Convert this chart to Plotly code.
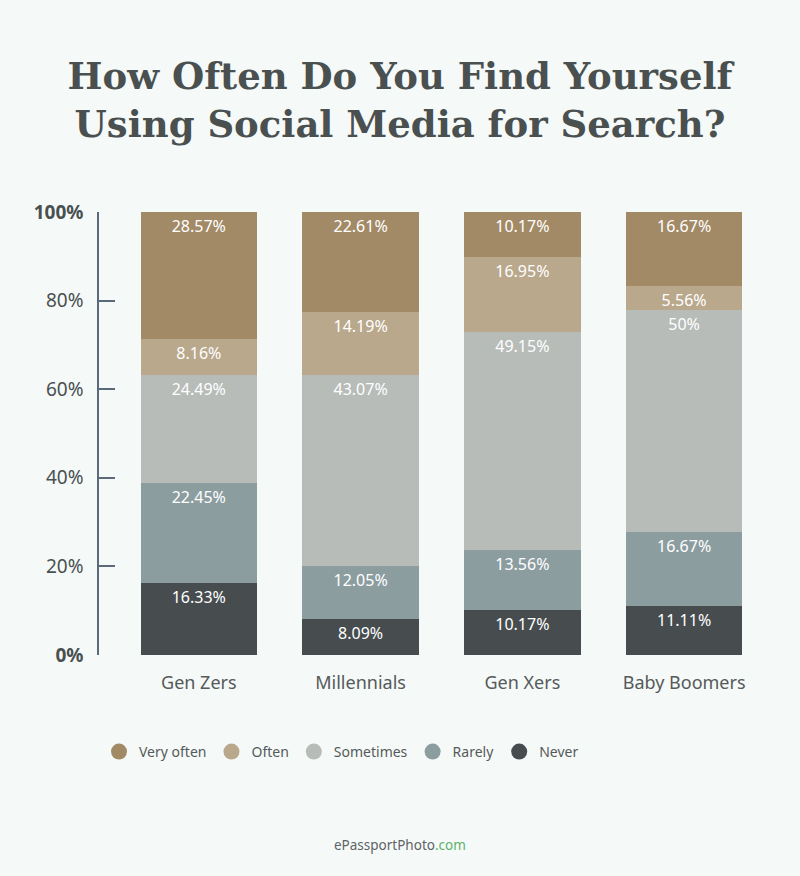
import plotly.graph_objects as go

categories = ["Gen Zers", "Millennials", "Gen Xers", "Baby Boomers"]
series_names = ["Never", "Rarely", "Sometimes", "Often", "Very often"]
never = [16.33, 8.09, 10.17, 11.11]
rarely = [22.45, 12.05, 13.56, 16.67]
sometimes = [24.49, 43.07, 49.15, 50.0]
often = [8.16, 14.19, 16.95, 5.56]
very_often = [28.57, 22.61, 10.17, 16.67]
labels_never = ["16.33%", "8.09%", "10.17%", "11.11%"]
labels_rarely = ["22.45%", "12.05%", "13.56%", "16.67%"]
labels_sometimes = ["24.49%", "43.07%", "49.15%", "50%"]
labels_often = ["8.16%", "14.19%", "16.95%", "5.56%"]
labels_very_often = ["28.57%", "22.61%", "10.17%", "16.67%"]
y_ticks = [0, 20, 40, 60, 80, 100]
y_tick_text = ["<b>0%</b>", "20%", "40%", "60%", "80%", "<b>100%</b>"]
legend_order = ["Very often", "Often", "Sometimes", "Rarely", "Never"]

colors = {
    "Very often": "#a38a67",
    "Often": "#b9a88c",
    "Sometimes": "#b7bcb9",
    "Rarely": "#8b9d9f",
    "Never": "#474d4f",
}
values = {"Never": never, "Rarely": rarely, "Sometimes": sometimes,
          "Often": often, "Very often": very_often}
texts = {"Never": labels_never, "Rarely": labels_rarely, "Sometimes": labels_sometimes,
         "Often": labels_often, "Very often": labels_very_often}

FONT = "Noto Sans"
BG = "#f5f9f8"
fig = go.Figure()
for name in series_names:
    fig.add_trace(go.Bar(
        x=categories, y=values[name], name=name, text=texts[name],
        texttemplate="%{text}", textposition="inside", insidetextanchor="end",
        textangle=0, constraintext="none",
        textfont=dict(family=FONT, size=16, color="#ffffff"),
        marker=dict(color=colors[name], line=dict(width=0)),
        showlegend=False, hoverinfo="skip",
    ))
for name in legend_order:
    fig.add_trace(go.Scatter(
        x=[None], y=[None], mode="markers", name=name,
        marker=dict(symbol="circle", size=22, color=colors[name]),
        showlegend=True,
    ))

fig.update_layout(
    width=800, height=876,
    paper_bgcolor=BG, plot_bgcolor=BG,
    barmode="stack", bargap=0.28,
    margin=dict(l=99, r=35, t=212, b=221),
    title=dict(
        text="How Often Do You Find Yourself<br>Using Social Media for Search?",
        x=0.5, xanchor="center", y=1 - 89 / 876, yanchor="top",
        font=dict(family="DejaVu Serif", size=37, color="#4a5050", weight="bold"),
    ),
    xaxis=dict(
        type="category", range=[-0.617, 3.5], showgrid=False, zeroline=False,
        showline=False, ticks="", ticklabelstandoff=15,
        tickfont=dict(family=FONT, size=18, color="#555a5a"),
    ),
    yaxis=dict(
        range=[0, 100], tickvals=y_ticks, ticktext=y_tick_text,
        showgrid=False, zeroline=False, showline=True, linecolor="#5a6a78", linewidth=1.5,
        ticks="inside", ticklen=16, tickwidth=1.5, tickcolor="#5a6a78",
        ticklabelstandoff=10,
        tickfont=dict(family=FONT, size=19, color="#4a5050"),
    ),
    legend=dict(
        orientation="h", x=0.0, xanchor="left", y=(655 - 752) / 443, yanchor="middle",
        font=dict(family=FONT, size=14, color="#555a5a"),
        itemsizing="trace", traceorder="normal", tracegroupgap=0,
        bgcolor="rgba(0,0,0,0)",
    ),
    annotations=[dict(
        text="ePassportPhoto<span style='color:#5fb26a'>.com</span>",
        x=(400 - 99) / 666, xref="paper", xanchor="center",
        y=(655 - 845) / 443, yref="paper", yanchor="middle", showarrow=False,
        font=dict(family=FONT, size=13.5, color="#5e6466"),
    )],
)
fig.write_html(
    "out.html",
    config={"displayModeBar": False},
    post_script="document.body.style.margin='0';document.body.style.background='%s';" % BG,
)
